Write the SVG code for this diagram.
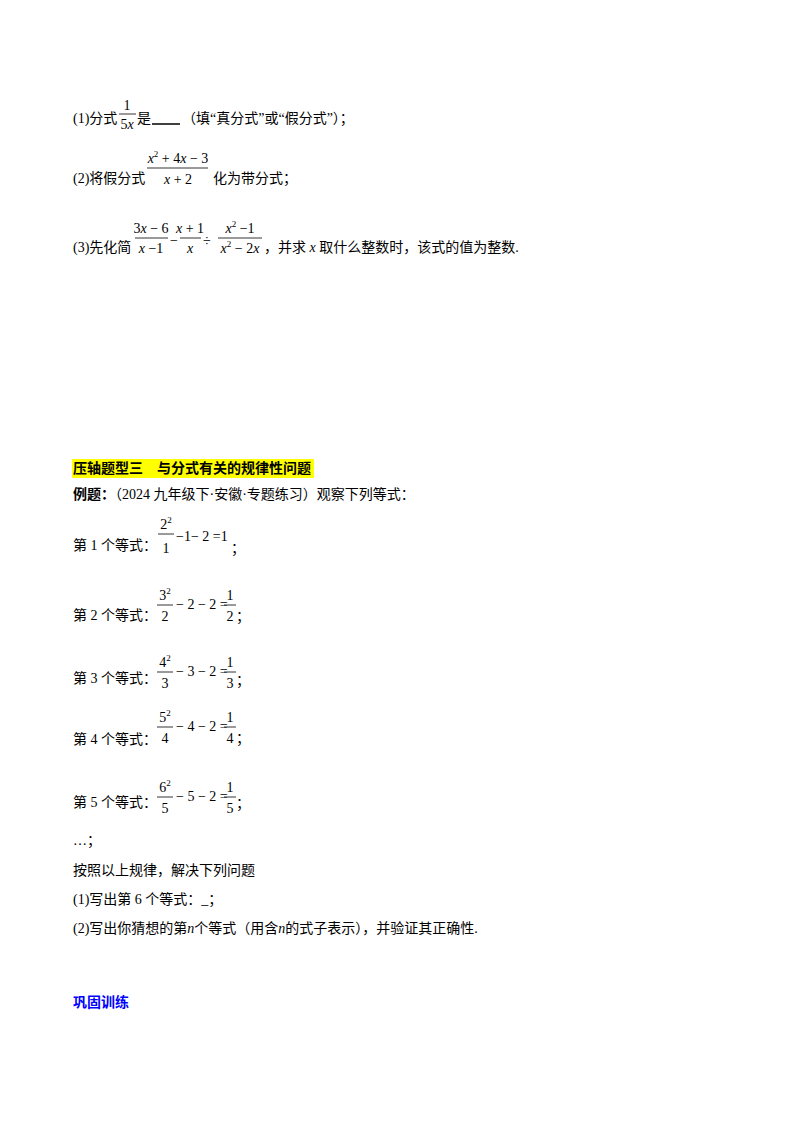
<svg xmlns="http://www.w3.org/2000/svg" width="800" height="1132" viewBox="0 0 800 1132">
<style>
text{font-family:"Liberation Serif","Noto Sans CJK SC",serif;font-size:14px;fill:#000}
.c{text-anchor:middle}
.i{font-style:italic}
.b{font-weight:bold}
.s{font-size:9px}
line{stroke:#000;stroke-width:0.8}
</style>
<rect width="800" height="1132" fill="#fff"/>
<text x="73" y="123">(1)分式</text>
<text x="127" y="110" class="c">1</text><line x1="119" y1="114" x2="136" y2="114"/>
<text x="127" y="129" class="c">5<tspan class="i">x</tspan></text>
<text x="137" y="123">是</text><line x1="152" y1="124" x2="180" y2="124" style="stroke-width:1.5"/>
<text x="182" y="123">（填“真分式”或“假分式”）；</text>

<text x="73" y="183">(2)将假分式</text>
<text x="178" y="163" class="c"><tspan class="i">x</tspan><tspan class="s" dy="-6">2</tspan><tspan dy="6"> + 4</tspan><tspan class="i">x</tspan> − 3</text>
<line x1="147" y1="168" x2="208" y2="168"/>
<text x="178" y="184" class="c"><tspan class="i">x</tspan> + 2</text>
<text x="213" y="183">化为带分式；</text>

<text x="73" y="252">(3)先化简</text>
<text x="151" y="233" class="c">3<tspan class="i">x</tspan> − 6</text>
<line x1="135" y1="238" x2="168" y2="238"/>
<text x="151" y="253" class="c"><tspan class="i">x</tspan> −1</text>
<text x="170" y="245">−</text>
<text x="190" y="233" class="c"><tspan class="i">x</tspan> + 1</text>
<line x1="180" y1="238" x2="201" y2="238"/>
<text x="190" y="253" class="c" font-style="italic">x</text>
<text x="203" y="246">÷</text>
<text x="240" y="233" class="c"><tspan class="i">x</tspan><tspan class="s" dy="-6">2</tspan><tspan dy="6"> −1</tspan></text>
<line x1="218" y1="238" x2="262" y2="238"/>
<text x="240" y="253" class="c"><tspan class="i">x</tspan><tspan class="s" dy="-6">2</tspan><tspan dy="6"> − 2</tspan><tspan class="i">x</tspan></text>
<text x="264" y="252">，并求 <tspan class="i">x</tspan> 取什么整数时，该式的值为整数.</text>

<rect x="72" y="459" width="242" height="19" fill="#ffff00"/>
<text x="73" y="473" class="b">压轴题型三　与分式有关的规律性问题</text>
<text x="73" y="499"><tspan class="b">例题：</tspan>（2024 九年级下·安徽·专题练习）观察下列等式：</text>

<text x="73" y="550">第 1 个等式：</text>
<text x="166" y="529" class="c">2<tspan class="s" dy="-6">2</tspan></text>
<line x1="158" y1="534" x2="174" y2="534"/>
<text x="166" y="553" class="c">1</text>
<text x="176" y="541">−1− 2 =1</text>
<text x="231" y="553">；</text>

<text x="73" y="620">第 2 个等式：</text>
<text x="165" y="600" class="c">3<tspan class="s" dy="-6">2</tspan></text>
<line x1="157" y1="605" x2="173" y2="605"/>
<text x="165" y="621" class="c">2</text>
<text x="176" y="609">− 2 − 2 =</text>
<text x="230" y="600" class="c">1</text>
<line x1="224" y1="605" x2="236" y2="605"/>
<text x="230" y="621" class="c">2</text>
<text x="236" y="621">；</text>

<text x="73" y="683">第 3 个等式：</text>
<text x="165" y="667" class="c">4<tspan class="s" dy="-6">2</tspan></text>
<line x1="157" y1="672" x2="173" y2="672"/>
<text x="165" y="688" class="c">3</text>
<text x="176" y="676">− 3 − 2 =</text>
<text x="230" y="667" class="c">1</text>
<line x1="224" y1="672" x2="236" y2="672"/>
<text x="230" y="688" class="c">3</text>
<text x="236" y="685">；</text>

<text x="73" y="744">第 4 个等式：</text>
<text x="165" y="722" class="c">5<tspan class="s" dy="-6">2</tspan></text>
<line x1="157" y1="727" x2="173" y2="727"/>
<text x="165" y="743" class="c">4</text>
<text x="176" y="731">− 4 − 2 =</text>
<text x="230" y="722" class="c">1</text>
<line x1="224" y1="727" x2="236" y2="727"/>
<text x="230" y="743" class="c">4</text>
<text x="236" y="743">；</text>

<text x="73" y="807">第 5 个等式：</text>
<text x="165" y="792" class="c">6<tspan class="s" dy="-6">2</tspan></text>
<line x1="157" y1="797" x2="173" y2="797"/>
<text x="165" y="813" class="c">5</text>
<text x="176" y="801">− 5 − 2 =</text>
<text x="230" y="792" class="c">1</text>
<line x1="224" y1="797" x2="236" y2="797"/>
<text x="230" y="813" class="c">5</text>
<text x="236" y="808">；</text>

<text x="73" y="845">…；</text>
<text x="73" y="875">按照以上规律，解决下列问题</text>
<text x="73" y="904">(1)写出第 6 个等式：_；</text>
<text x="73" y="933">(2)写出你猜想的第<tspan class="i">n</tspan>个等式（用含<tspan class="i">n</tspan>的式子表示），并验证其正确性.</text>
<text x="73" y="1007" class="b" style="fill:#0000ff">巩固训练</text>
</svg>
